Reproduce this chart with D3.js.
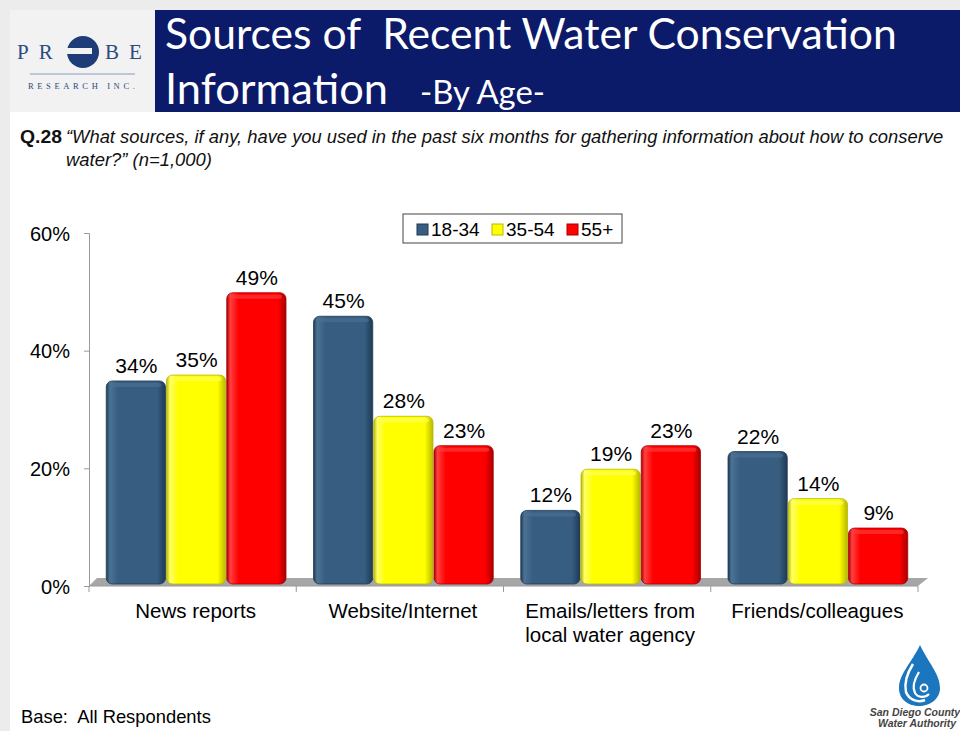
<!DOCTYPE html>
<html>
<head>
<meta charset="utf-8">
<script src="https://cdn.jsdelivr.net/npm/d3@7"></script>
<style>
  body { margin: 0; background: #fff; }
  svg { display: block; }
</style>
</head>
<body>
<svg id="chart" width="960" height="731"></svg>
<script>
// chart data
var categories = ["News reports", "Website/Internet", "Emails/letters from\nlocal water agency", "Friends/colleagues"];
var groups = ["18-34", "35-54", "55+"];
var age1834 = [34, 45, 12, 22];
var age3554 = [35, 28, 19, 14];
var age55plus = [49, 23, 23, 9];
var yTicks = [0, 20, 40, 60];

var colors = {"18-34": "#375d80", "35-54": "#ffff00", "55+": "#ff0000"};
var darks = {"18-34": "#1f3a55", "35-54": "#b8b800", "55+": "#a80000"};
var lights = {"18-34": "#4c7294", "35-54": "#ffff66", "55+": "#ff4040"};

var series = [age1834, age3554, age55plus];
var rows = categories.map(function(c, i) {
  return {cat: c, values: groups.map(function(g, j) { return {key: g, value: series[j][i]}; })};
});

var svg = d3.select("#chart");

// page background / slide frame
svg.append("rect").attr("width", 960).attr("height", 731).attr("fill", "#ffffff");
svg.append("rect").attr("x", 0).attr("y", 0).attr("width", 960).attr("height", 10).attr("fill", "#ececec");
svg.append("rect").attr("x", 0).attr("y", 0).attr("width", 10).attr("height", 731).attr("fill", "#ececec");
svg.append("rect").attr("x", 10).attr("y", 10).attr("width", 145).attr("height", 102).attr("fill", "#f2f2f2");

// header bar
svg.append("rect").attr("x", 155).attr("y", 10).attr("width", 805).attr("height", 102).attr("fill", "#0c1a6a");

function fitText(sel, w) {
  var len = sel.node().getComputedTextLength();
  var fs = parseFloat(sel.attr("font-size"));
  sel.attr("font-size", fs * w / len);
}

// squeeze a text horizontally to a given width (narrow-font look)
function squeeze(g, sel, x, yPos, w) {
  var len = sel.node().getComputedTextLength();
  g.attr("transform", "translate(" + x + "," + yPos + ") scale(" + (w / len) + ",1)");
}

var titleFont = "Lato, 'Open Sans', sans-serif";
var t1 = svg.append("text").attr("x", 165).attr("y", 49)
  .attr("font-family", titleFont).attr("font-size", 40).attr("fill", "#fff")
  .attr("xml:space", "preserve")
  .text("Sources of  Recent Water Conservation");
fitText(t1, 732);
var t2 = svg.append("text").attr("x", 165).attr("y", 104)
  .attr("font-family", titleFont).attr("font-size", 40).attr("fill", "#fff")
  .text("Information");
fitText(t2, 223);
var t3 = svg.append("text").attr("x", 420).attr("y", 104)
  .attr("font-family", titleFont).attr("font-size", 28).attr("fill", "#fff")
  .text("-By Age-");
fitText(t3, 125);

// PROBE logo
var logo = svg.append("g");
var serif = "'Liberation Serif', 'DejaVu Serif', serif";
logo.append("text").attr("x", 17).attr("y", 59).attr("font-family", serif).attr("font-size", 21)
  .attr("fill", "#2c4a80").attr("letter-spacing", 10).text("PR");
logo.append("text").attr("x", 105).attr("y", 59).attr("font-family", serif).attr("font-size", 21)
  .attr("fill", "#2c4a80").attr("letter-spacing", 10).text("BE");
logo.append("circle").attr("cx", 83).attr("cy", 52).attr("r", 16).attr("fill", "#1d3c78");
logo.append("rect").attr("x", 66).attr("y", 48).attr("width", 26).attr("height", 6).attr("fill", "#f2f2f2");
logo.append("line").attr("x1", 30).attr("x2", 135).attr("y1", 74).attr("y2", 74)
  .attr("stroke", "#8a9cbc").attr("stroke-width", 1);
logo.append("text").attr("x", 28).attr("y", 89).attr("font-family", serif).attr("font-size", 8.5)
  .attr("fill", "#2c4a80").attr("letter-spacing", 2.2)
  .attr("textLength", 109).attr("lengthAdjust", "spacing").text("RESEARCH INC.");

// question text
var qFont = "'Liberation Sans', Arial, sans-serif";
var qLines = [
  {x: 20, y: 143, w: 42, bold: true, text: "Q.28"},
  {x: 66, y: 143, w: 878, bold: false, text: "\u201cWhat sources, if any, have you used in the past six months for gathering information about how to conserve"},
  {x: 66, y: 166, w: 146, bold: false, text: "water?\u201d (n=1,000)"}
];
qLines.forEach(function(l) {
  var g = svg.append("g");
  var t = g.append("text").attr("font-family", qFont).attr("font-size", 19).attr("fill", "#111")
    .attr("font-weight", l.bold ? "bold" : "normal")
    .attr("font-style", l.bold ? "normal" : "italic")
    .text(l.text);
  squeeze(g, t, l.x, l.y, l.w);
});

// scales
var x0 = d3.scaleBand().domain(categories).range([89, 918]).padding(0);
var x1 = d3.scaleBand().domain(groups).range([0, x0.bandwidth()]).paddingInner(0).paddingOuter(0.22);
var y = d3.scaleLinear().domain([0, 60]).range([586, 233]);

var depth = 5;
var font = "'Liberation Sans', Arial, sans-serif";

// gradients
var defs = svg.append("defs");
groups.forEach(function(g, i) {
  var grad = defs.append("linearGradient").attr("id", "grad" + i).attr("x1", "0%").attr("x2", "100%");
  grad.append("stop").attr("offset", "0%").attr("stop-color", darks[g]);
  grad.append("stop").attr("offset", "6%").attr("stop-color", lights[g]);
  grad.append("stop").attr("offset", "20%").attr("stop-color", colors[g]);
  grad.append("stop").attr("offset", "86%").attr("stop-color", colors[g]);
  grad.append("stop").attr("offset", "100%").attr("stop-color", darks[g]);
});

// floor
var floorPts = [[x0.range()[0], y(0)], [x0.range()[1], y(0)], [x0.range()[1] + 10, y(0) - 8], [x0.range()[0] + 8, y(0) - 8]];
svg.append("polygon").attr("points", floorPts.map(function(p) { return p.join(","); }).join(" "))
  .attr("fill", "#a6a6a6");

// axes
var yAxis = svg.append("g").attr("transform", "translate(89,0)")
  .call(d3.axisLeft(y).tickValues(yTicks).tickSize(5).tickFormat(function(d) { return d + "%"; }));
yAxis.select(".domain").attr("stroke", "#999");
yAxis.selectAll(".tick line").attr("stroke", "#999");
yAxis.selectAll(".tick text").attr("font-family", font).attr("font-size", 20).attr("fill", "#000")
  .attr("x", -19).attr("dy", "0.35em");

var xAxis = svg.append("g").attr("transform", "translate(0," + y(0) + ")");
xAxis.append("line").attr("x1", x0.range()[0]).attr("x2", x0.range()[1]).attr("stroke", "#999");
var boundaries = categories.map(function(c) { return x0(c); }).concat([x0.range()[1]]);
xAxis.selectAll(".xtick").data(boundaries).enter().append("line")
  .attr("x1", function(d) { return d; }).attr("x2", function(d) { return d; })
  .attr("y1", 0).attr("y2", 6).attr("stroke", "#999");

var catLabels = xAxis.selectAll(".cat").data(categories).enter().append("text")
  .attr("text-anchor", "middle").attr("font-family", font).attr("font-size", 20.5).attr("fill", "#000")
  .attr("transform", function(d) { return "translate(" + (x0(d) + x0.bandwidth() / 2 + 3) + ",32)"; });
catLabels.selectAll("tspan").data(function(d) { return d.split("\n"); }).enter().append("tspan")
  .attr("x", 0).attr("dy", function(d, i) { return i === 0 ? 0 : 24; }).text(function(d) { return d; });

// bars
var barG = svg.selectAll(".grp").data(rows).enter().append("g")
  .attr("transform", function(d) { return "translate(" + (x0(d.cat) + 4) + ",0)"; });

barG.selectAll("rect").data(function(d) { return d.values; }).enter().append("rect")
  .attr("x", function(d) { return x1(d.key); })
  .attr("width", x1.bandwidth() - 1)
  .attr("y", function(d) { return y(d.value) - depth; })
  .attr("height", function(d) { return y(0) - 2 - (y(d.value) - depth); })
  .attr("rx", 6)
  .attr("fill", function(d) { return "url(#grad" + groups.indexOf(d.key) + ")"; })
  .attr("stroke", function(d) { return darks[d.key]; })
  .attr("stroke-width", 0.8);

// top highlight
barG.selectAll(".cap").data(function(d) { return d.values; }).enter().append("rect")
  .attr("x", function(d) { return x1(d.key) + 3; })
  .attr("width", x1.bandwidth() - 8)
  .attr("y", function(d) { return y(d.value) - depth + 2; })
  .attr("height", 4)
  .attr("rx", 2)
  .attr("fill", function(d) { return lights[d.key]; })
  .attr("opacity", 0.6);

barG.selectAll(".lbl").data(function(d) { return d.values; }).enter().append("text")
  .attr("x", function(d) { return x1(d.key) + x1.bandwidth() / 2; })
  .attr("y", function(d) { return y(d.value) - depth - 8; })
  .attr("text-anchor", "middle").attr("font-family", font).attr("font-size", 21).attr("fill", "#000")
  .text(function(d) { return d.value + "%"; });

// legend
var legend = svg.append("g").attr("transform", "translate(403,214)");
legend.append("rect").attr("width", 219).attr("height", 29).attr("fill", "#fff")
  .attr("stroke", "#444").attr("stroke-width", 1);
var legX = [14, 89, 164];
var li = legend.selectAll(".li").data(groups).enter().append("g")
  .attr("transform", function(d, i) { return "translate(" + legX[i] + ",0)"; });
li.append("rect").attr("y", 10).attr("width", 11).attr("height", 11)
  .attr("fill", function(d) { return colors[d]; })
  .attr("stroke", function(d) { return darks[d]; });
li.append("text").attr("x", 14).attr("y", 22).attr("font-family", font).attr("font-size", 19)
  .attr("fill", "#000").text(function(d) { return d; });

// base note
var base = svg.append("text").attr("x", 21).attr("y", 723).attr("font-family", font).attr("font-size", 17)
  .attr("xml:space", "preserve").attr("fill", "#000").text("Base:  All Respondents");
fitText(base, 190);

// SDCWA logo
var wl = svg.append("g");
wl.append("path")
  .attr("d", "M920,645 C912,662 899,674 899,688 C899,700 909,706 919,706 C930,706 940,699 940,688 C940,674 928,662 920,645 Z")
  .attr("fill", "#1c76bd");
wl.append("path")
  .attr("d", "M913,664 C906,675 904,683 906,692 C909,700 918,703 925,700")
  .attr("fill", "none").attr("stroke", "#fff").attr("stroke-width", 2.5);
wl.append("path")
  .attr("d", "M919,672 C914,680 912,687 915,693 C918,698 925,698 929,694")
  .attr("fill", "none").attr("stroke", "#fff").attr("stroke-width", 2.2);
wl.append("circle").attr("cx", 924).attr("cy", 688).attr("r", 3.5).attr("fill", "none")
  .attr("stroke", "#fff").attr("stroke-width", 1.8);
wl.append("text").attr("x", 915).attr("y", 716).attr("text-anchor", "middle")
  .attr("font-family", font).attr("font-size", 10.5).attr("font-weight", "bold").attr("font-style", "italic")
  .attr("fill", "#444").text("San Diego County");
wl.append("text").attr("x", 917).attr("y", 727).attr("text-anchor", "middle")
  .attr("font-family", font).attr("font-size", 10.5).attr("font-weight", "bold").attr("font-style", "italic")
  .attr("fill", "#444").text("Water Authority");
</script>
</body>
</html>
